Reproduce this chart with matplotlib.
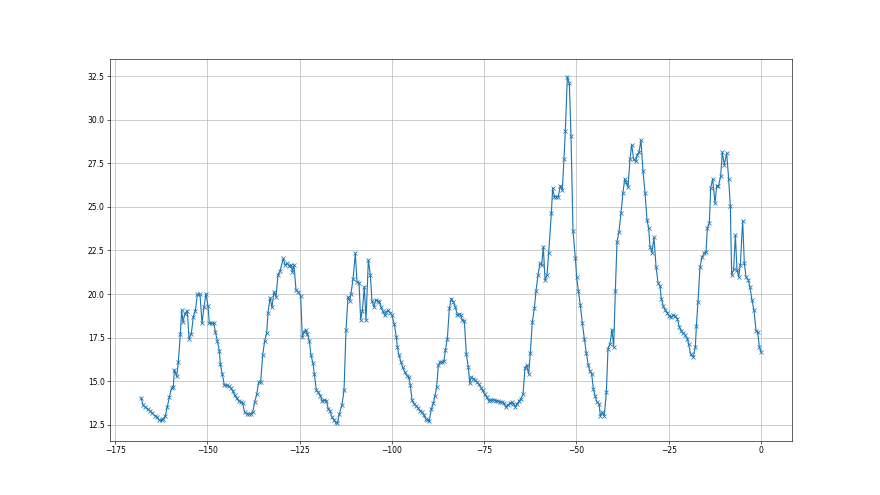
import matplotlib
matplotlib.use("Agg")
import matplotlib.pyplot as plt

# tempo (relativo ao instante final) e valores
t = [-168.02, -167.39, -166.85, -166.21, -165.58, -164.95, -164.32, -163.68, -163.05, -162.42,
     -161.97, -161.42, -160.88, -160.34, -159.71, -159.26, -158.99, -158.35, -157.9, -157.36,
     -157.0, -156.64, -156.09, -155.46, -155.01, -154.38, -153.84, -153.29, -152.75, -152.03,
     -151.49, -150.95, -150.4, -149.86, -149.5, -148.87, -148.33, -147.87, -147.33, -146.79,
     -146.52, -145.98, -145.44, -144.8, -144.26, -143.72, -143.18, -142.64, -142.09, -141.55,
     -141.01, -140.47, -139.92, -139.38, -138.84, -138.3, -137.76, -137.21, -136.67, -136.13,
     -135.59, -135.05, -134.51, -133.96, -133.6, -133.06, -132.52, -131.98, -131.43, -130.89,
     -130.35,
     -129.45, -129.0, -128.36, -127.82, -127.37, -127.0, -126.56, -126.01, -125.38, -124.75,
     -124.3, -123.85, -123.4, -122.94, -122.4, -121.95, -121.41, -121.05, -120.5, -119.96,
     -119.42, -118.88, -118.34, -117.79, -117.25, -116.8, -116.35, -115.8, -115.26, -114.81,
     -114.27, -113.55, -113.0, -112.46, -111.92, -111.47, -111.11, -110.57, -109.93, -109.48,
     -108.94, -108.49, -108.04, -107.5, -107.04, -106.41, -105.87, -105.42, -104.88, -104.42,
     -103.88, -103.43, -102.98, -102.53, -101.99, -101.53, -101.08, -100.54, -100.0, -99.37,
     -98.82, -98.55, -98.1, -97.56, -97.11, -96.56, -96.02, -95.48, -95.03, -94.58,
     -94.04, -93.49, -92.95, -92.41, -91.87, -91.42, -90.87, -90.42, -89.88, -89.34,
     -88.8, -88.35, -87.9, -87.44, -86.99,
     -86.45, -85.91, -85.54, -85.0, -84.46, -83.92, -83.38, -82.83, -82.29, -81.75,
     -81.39, -80.94, -80.4, -79.85, -79.31, -78.95, -78.5, -77.96, -77.41, -76.96,
     -76.42, -75.88, -75.43, -74.88, -74.34, -73.8, -73.35, -72.81, -72.36, -71.81,
     -71.27, -70.73, -70.19, -69.65, -69.19, -68.65, -68.11, -67.57, -67.12, -66.57,
     -66.12, -65.58, -65.13, -64.5, -63.95, -63.5, -62.96, -62.51, -61.97, -61.42,
     -60.97, -60.43, -59.89, -59.44, -58.99, -58.53, -57.99, -57.54,
     -56.82, -56.46, -56.0, -55.46, -54.92, -54.38, -53.84, -53.39, -53.02, -52.48,
     -51.94, -51.49, -50.95, -50.31, -49.95, -49.5, -48.96, -48.42, -47.88, -47.33,
     -46.79, -46.34, -45.89, -45.44, -44.98, -44.44, -43.9, -43.54, -43.0, -42.46,
     -41.91, -41.46, -40.92, -40.38, -39.93, -39.47, -39.02, -38.48, -37.94, -37.4,
     -36.95, -36.58, -36.04, -35.5, -35.05, -34.51, -33.96, -33.51, -33.06, -32.52,
     -31.98, -31.43, -30.89, -30.44, -30.08,
     -29.54, -29.0, -28.45, -27.91, -27.37, -27.01, -26.47, -25.92, -25.38, -24.84,
     -24.3, -23.76, -23.21, -22.67, -22.13, -21.59, -21.05, -20.5, -19.96, -19.6,
     -19.06, -18.34, -17.79, -17.52, -17.07, -16.53, -15.99, -15.45, -14.9, -14.54,
     -14.0, -13.64, -13.1, -12.46, -12.01, -11.56,
     -10.93, -10.48, -9.94, -9.3, -8.76, -8.31, -7.95, -7.41, -6.95, -6.5,
     -6.05, -5.6, -4.97, -4.52, -4.06, -3.43, -2.98, -2.44, -1.9, -1.35,
     -0.9, -0.45, 0.0]

valores = [14.04, 13.6, 13.5, 13.4, 13.27, 13.16, 13.02, 12.93, 12.74, 12.74,
           12.83, 13.0, 13.54, 14.08, 14.62, 14.66, 15.65, 15.27, 16.1, 17.69,
           19.07, 18.4, 18.88, 19.04, 17.44, 17.73, 18.69, 19.04, 19.98, 19.98,
           18.31, 19.27, 20.03, 19.31, 18.31, 18.31, 18.36, 17.83, 17.31, 16.73,
           15.96, 15.39, 14.77, 14.75, 14.69, 14.62, 14.43, 14.18, 14.02, 13.85,
           13.79, 13.73, 13.21, 13.12, 13.12, 13.12, 13.21, 13.79, 14.23, 14.94,
           14.94, 16.48, 17.31, 17.77, 18.92, 19.8, 19.23, 20.13, 19.84, 21.09,
           21.32,
           22.05, 21.67, 21.76, 21.61, 21.66, 21.28, 21.66, 20.22, 20.13, 19.88,
           17.53, 17.82, 17.96, 17.73, 17.3, 16.48, 16.03, 15.42, 14.46, 14.36,
           14.17, 13.83, 13.92, 13.88, 13.4, 13.3, 12.96, 12.77, 12.63, 12.58,
           13.11, 13.65, 14.46, 17.96, 19.84, 19.61, 20.03, 20.84, 22.34, 20.7,
           20.65, 18.53, 19.03, 20.42, 18.49, 21.95, 21.09, 19.61, 19.26, 19.65,
           19.61, 19.55, 19.26, 19.03, 18.78, 18.97, 19.07, 18.92, 18.78, 18.26,
           17.53, 16.96, 16.48, 16.09, 15.8, 15.52, 15.32, 15.23, 14.75, 13.92,
           13.69, 13.59, 13.46, 13.3, 13.21, 13.07, 12.83, 12.77, 12.73, 13.4,
           13.73, 14.17, 14.65, 15.9, 16.09,
           16.09, 16.15, 16.77, 17.44, 19.17, 19.74, 19.55, 19.26, 18.78, 18.84,
           18.78, 18.49, 18.46, 16.53, 15.8, 14.88, 15.23, 15.13, 15.04, 14.94,
           14.81, 14.61, 14.46, 14.23, 14.08, 13.88, 13.92, 13.92, 13.92, 13.88,
           13.84, 13.81, 13.79, 13.73, 13.5, 13.6, 13.73, 13.79, 13.69, 13.54,
           13.69, 13.84, 13.98, 14.23, 15.77, 15.9, 15.42, 16.61, 18.4, 19.17,
           20.18, 21.09, 21.76, 21.66, 22.72, 20.8, 21.09, 22.34,
           24.64, 26.08, 25.6, 25.6, 25.6, 26.22, 25.99, 27.75, 29.39, 32.48,
           32.1, 29.1, 23.64, 22.05, 20.95, 20.19, 19.36, 18.34, 17.44, 16.61,
           15.9, 15.57, 15.42, 14.56, 14.17, 13.79, 13.69, 13.02, 13.21, 13.02,
           14.36, 16.86, 17.15, 17.96, 16.96, 20.19, 23.01, 23.59, 24.64, 25.83,
           26.6, 26.41, 26.14, 27.75, 28.58, 27.75, 27.62, 28.0, 28.14, 28.83,
           27.04, 25.83, 24.26, 23.78, 22.72,
           22.37, 23.26, 21.57, 20.66, 20.45, 19.74, 19.3, 19.07, 18.92, 18.72,
           18.69, 18.78, 18.72, 18.59, 18.11, 17.88, 17.76, 17.63, 17.44, 17.11,
           16.53, 16.38, 16.96, 18.15, 19.55, 21.57, 22.1, 22.34, 22.43, 23.78,
           24.06, 26.08, 26.6, 25.22, 26.22, 26.18,
           26.76, 28.14, 27.43, 28.1, 26.6, 25.03, 21.09, 21.41, 23.39, 21.38,
           20.99, 21.67, 24.22, 21.76, 20.99, 20.8, 20.38, 19.65, 19.07, 17.88,
           17.82, 16.96, 16.67]

fig, ax = plt.subplots(figsize=(16, 9), dpi=55)
ax.plot(t, valores, "x-")
ax.grid(True)
plt.savefig("out.png", dpi=55)
